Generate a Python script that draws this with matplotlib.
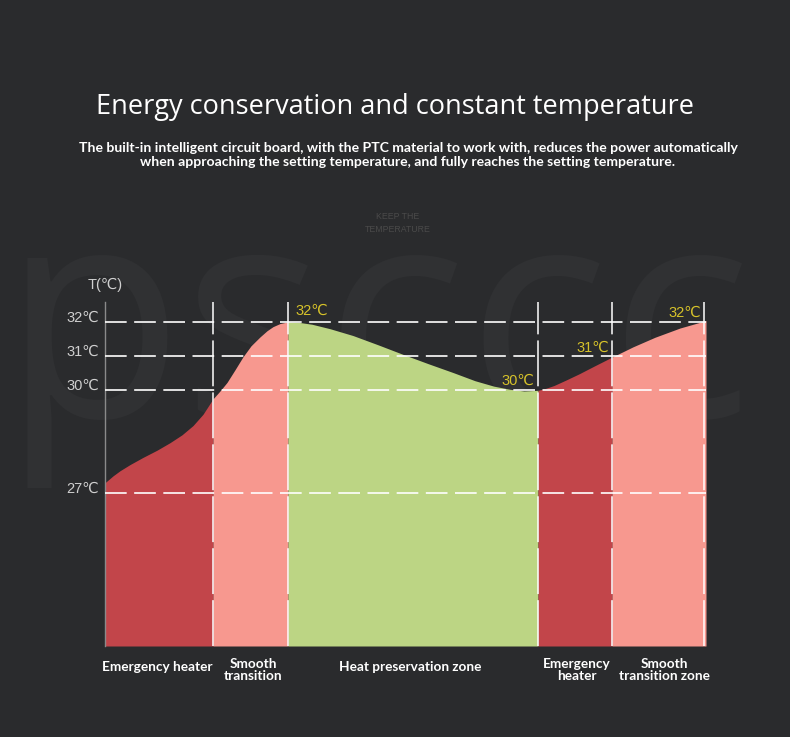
import numpy as np
import matplotlib.pyplot as plt

# ---------------- data
# position along the curve (px from the T axis) and temperature in degC
xpos = [0, 8, 15, 25, 38, 52, 65, 77, 88, 98, 108,
        115, 122, 130, 138, 146, 155, 162, 168, 175, 183,
        195, 207, 225, 248, 273, 298, 323, 348, 370, 389, 405, 419, 433,
        441, 449, 461, 474, 490, 507,
        528, 550, 575, 599, 601]
temp = [27.3, 27.5, 27.65, 27.83, 28.04, 28.25, 28.47, 28.7, 28.97, 29.3, 29.75,
        29.98, 30.23, 30.6, 30.98, 31.3, 31.56, 31.74, 31.86, 31.95, 32.0,
        31.98, 31.93, 31.8, 31.6, 31.33, 31.05, 30.78, 30.52, 30.28, 30.12, 30.03, 29.98, 30.0,
        30.06, 30.14, 30.3, 30.48, 30.72, 30.97,
        31.27, 31.55, 31.82, 32.02, 32.04]

zone_edges = [0, 108, 183, 433, 507, 601]
zone_cols = ['#c2454a', '#f7988f', '#bcd584', '#c2454a', '#f7988f']
zone_names = ['Emergency heater', 'Smooth\ntransition', 'Heat preservation zone',
              'Emergency\nheater', 'Smooth\ntransition zone']
name_x = [157, 253, 410, 577, 664]   # label centres (px)

levels = [27, 30, 31, 32]
level_labels = ['27℃', '30℃', '31℃', '32℃']
guides = [108, 183, 433, 507, 599]

# yellow call-outs: (x, T, text, ha)
callouts = [(190, 32.32, '32℃', 'left'),
            (429, 30.27, '30℃', 'right'),
            (504, 31.24, '31℃', 'right'),
            (596, 32.26, '32℃', 'right')]

title = 'Energy conservation and constant temperature'
subtitle = ('The built-in intelligent circuit board, with the PTC material to work with, reduces the power automatically\n'
            'when approaching the setting temperature, and fully reaches the setting temperature.')

bg = '#2a2b2d'
W, H = 790, 737
fs = ['Liberation Sans', 'DejaVu Sans']

fig = plt.figure(figsize=(W/100, H/100), dpi=100, facecolor=bg)

def fx(px):
    return px/W
def fy(py):
    return 1-py/H

# watermark
fig.text(fx(2), fy(417), 'psccc', fontsize=214, family='Open Sans',
         color='#303133', ha='left', va='baseline', zorder=-5)

fig.text(0.5, fy(107), title, fontsize=19.5, family='Open Sans', color='white',
         ha='center', va='center')
fig.text(fx(408), fy(155), subtitle, fontsize=10.1, family='Lato', weight='bold',
         color='white', ha='center', va='center', linespacing=1.1)
fig.text(fx(398), fy(223), 'KEEP THE\nTEMPERATURE', fontsize=6.3, family='Liberation Sans',
         color='#4a4a4a', ha='center', va='center', linespacing=1.7)

# chart area: x 105..706 px, y 302..646 px
ax = fig.add_axes([fx(105), fy(646), 601/W, 344/H])
ax.set_zorder(2)
ax.set_facecolor('none')
ax.set_xlim(0, 601)
ax.set_ylim(22.53, 32.58)

x = np.array(xpos, dtype=float)
t = np.array(temp)
for i in range(5):
    a, b = zone_edges[i], zone_edges[i+1]
    m = (x >= a) & (x <= b)
    ax.fill_between(x[m], 22.53, t[m], color=zone_cols[i], lw=0, zorder=1)

ax.hlines(levels, 0, 601, colors='white', lw=1.2, linestyles=(0, (13, 4.5)), zorder=3)
ax.vlines(guides, 22.53, 32.58, colors='white', lw=1.1, linestyles=(0, (30, 4)), zorder=3)

for v, lab in zip(levels, level_labels):
    ax.text(-6, v + 0.12, lab, fontsize=10.5, family=fs, color='#cfcfcf',
            ha='right', va='center')
ax.text(0, 32.58 + 0.5, 'T(℃)', fontsize=10.5, family=fs, color='#cfcfcf',
        ha='center', va='center')

for cx, cy, lab, ha in callouts:
    ax.text(cx, cy, lab, fontsize=10.5, family=fs, color='#d6c22a', ha=ha, va='center', zorder=4)

for s in ['top', 'right', 'bottom']:
    ax.spines[s].set_visible(False)
ax.spines['left'].set_color('#8a8a8a')
ax.spines['left'].set_linewidth(1)
ax.set_xticks([])
ax.set_yticks([])

for name, cx in zip(zone_names, name_x):
    yy = 667 if '\n' not in name else 670
    fig.text(fx(cx), fy(yy), name, fontsize=9.8, family='Lato', weight='bold', color='white',
             ha='center', va='center', linespacing=1.1)

fig.savefig('out.png', dpi=100, facecolor=bg)
